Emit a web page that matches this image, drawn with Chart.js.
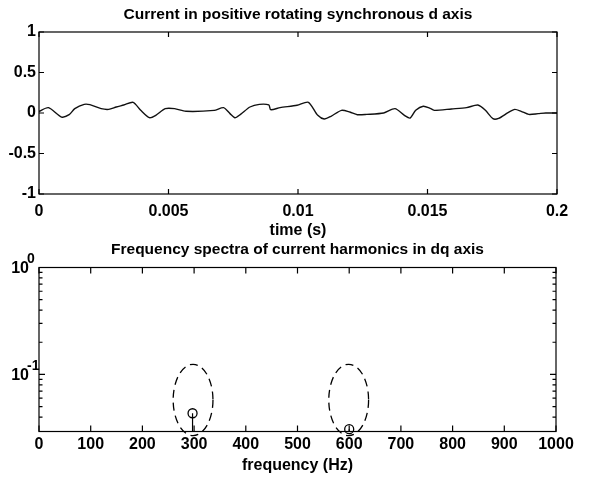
<!DOCTYPE html>
<html>
<head>
<meta charset="utf-8">
<script src="https://cdn.jsdelivr.net/npm/chart.js@4.4.1/dist/chart.umd.min.js"></script>
<style>
  html, body { margin: 0; padding: 0; background: #fff; }
  #top { position: absolute; left: 0; top: 0; }
  #bottom { position: absolute; left: 0; top: 240px; }
</style>
</head>
<body>
<canvas id="top" width="590" height="240"></canvas>
<canvas id="bottom" width="590" height="237"></canvas>
<script>
// d axis current (time in ms)
var timeMs = [0, 0.364, 0.873, 1.164, 1.382, 1.745, 1.964, 2.4, 2.691, 2.982,
  3.273, 3.636, 3.927, 4.262, 4.509, 4.873, 5.236, 5.673, 6.764, 7.127,
  7.375, 7.564, 7.782, 8.145, 8.509, 8.873, 8.945, 9.309, 9.964, 10.4,
  10.764, 11.011, 11.273, 11.68, 12.0, 12.291, 12.655, 13.309, 13.745, 14.109,
  14.327, 14.545, 14.836, 15.127, 15.273, 15.927, 16.509, 16.945, 17.236, 17.527,
  17.745, 18.109, 18.371, 18.618, 18.909, 19.273, 19.564, 20.0];
var currentD = [0.02, 0.066, -0.05, -0.02, 0.054, 0.107, 0.103, 0.054, 0.045, 0.074,
  0.099, 0.132, 0.033, -0.058, -0.029, 0.054, 0.054, 0.021, 0.033, 0.066,
  -0.008, -0.058, -0.017, 0.074, 0.107, 0.099, 0.041, 0.066, 0.095, 0.132,
  -0.029, -0.074, -0.041, 0.033, 0.012, -0.021, -0.017, 0, 0.054, -0.029,
  -0.062, 0.033, 0.083, 0.054, 0.033, 0.05, 0.066, 0.099, 0.033, -0.07,
  -0.066, 0.004, 0.045, 0.021, -0.017, -0.008, 0, 0];
var timeTicks = ['0', '0.005', '0.01', '0.015', '0.2'];
var currentTicks = ['-1', '-0.5', '0', '0.5', '1'];

// harmonic spectrum
var harmFreq = [297, 600];
var harmAmp = [0.0434, 0.0308];
var freqTicks = ['0', '100', '200', '300', '400', '500', '600', '700', '800', '900', '1000'];
var ampDecades = [1, 0.1];
var ampExponents = ['0', '-1'];
var ampRange = [0.0293, 1];

// dashed rings round the two harmonics
var ringFreq = [298, 599];
var ringHalfWidth = 38.5;
var ringTop = 0.1245;
var ringMid = 0.0578;

Chart.defaults.font.family = '"Liberation Sans", Arial, Helvetica, sans-serif';
Chart.defaults.font.size = 16;
Chart.defaults.font.weight = 'bold';
Chart.defaults.color = '#000';

function isDecade(v) {
   var l = Math.log10(v);
   return Math.abs(l - Math.round(l)) < 1e-6;
}

// matlab style box with inward ticks on all four sides
var boxTicks = {
   id: 'boxTicks',
   afterDraw: function(chart, args, opts) {
      var ctx = chart.ctx, a = chart.chartArea;
      var x = chart.scales.x, y = chart.scales.y;
      ctx.save();
      ctx.strokeStyle = '#000';
      ctx.lineWidth = 1.2;
      ctx.setLineDash([]);
      ctx.strokeRect(a.left, a.top, a.right - a.left, a.bottom - a.top);
      ctx.beginPath();
      x.ticks.forEach(function(t) {
         var px = x.getPixelForValue(t.value);
         ctx.moveTo(px, a.bottom); ctx.lineTo(px, a.bottom - opts.len);
         ctx.moveTo(px, a.top); ctx.lineTo(px, a.top + opts.len);
      });
      y.ticks.forEach(function(t) {
         var py = y.getPixelForValue(t.value);
         var len = opts.log && !isDecade(t.value) ? opts.minor : opts.len;
         ctx.moveTo(a.left, py); ctx.lineTo(a.left + len, py);
         ctx.moveTo(a.right, py); ctx.lineTo(a.right - len, py);
      });
      ctx.stroke();
      ctx.restore();
   }
};

// 10^n labels for the log axis
var decadeLabels = {
   id: 'decadeLabels',
   afterDraw: function(chart) {
      var ctx = chart.ctx, y = chart.scales.y, a = chart.chartArea;
      ctx.save();
      ctx.fillStyle = '#000';
      ampDecades.forEach(function(v, i) {
         var py = y.getPixelForValue(v);
         ctx.font = 'bold 16px "Liberation Sans", Arial, sans-serif';
         ctx.textAlign = 'right';
         ctx.textBaseline = 'middle';
         ctx.fillText('10', a.left - 10, py + 1);
         ctx.font = 'bold 14px "Liberation Sans", Arial, sans-serif';
         ctx.textAlign = 'left';
         ctx.fillText(ampExponents[i], a.left - 12, py - 8);
      });
      ctx.restore();
   }
};

var rings = {
   id: 'rings',
   afterDatasetsDraw: function(chart) {
      var ctx = chart.ctx, x = chart.scales.x, y = chart.scales.y;
      ctx.save();
      ctx.setLineDash([8, 5]);
      ctx.lineWidth = 1.3;
      ctx.strokeStyle = '#000';
      ringFreq.forEach(function(f) {
         var cx = x.getPixelForValue(f);
         var rx = x.getPixelForValue(f + ringHalfWidth) - cx;
         var cy = y.getPixelForValue(ringMid);
         var ry = cy - y.getPixelForValue(ringTop);
         ctx.beginPath();
         ctx.ellipse(cx, cy, rx, ry, 0, 0, Math.PI * 2);
         ctx.stroke();
      });
      ctx.restore();
   }
};

new Chart(document.getElementById('top'), {
   type: 'line',
   data: {
      datasets: [{
         data: timeMs.map(function(t, i) { return {x: t / 1000, y: currentD[i]}; }),
         borderColor: '#111',
         borderWidth: 1.4,
         pointRadius: 0,
         tension: 0.25,
         fill: false
      }]
   },
   options: {
      responsive: false,
      animation: false,
      devicePixelRatio: 1,
      layout: { padding: { left: 0, right: 33, top: 0, bottom: 0 } },
      plugins: {
         legend: { display: false },
         tooltip: { enabled: false },
         title: {
            display: true,
            fullSize: false,
            text: 'Current in positive rotating synchronous d axis',
            font: { size: 15.5, weight: 'bold' },
            padding: { top: 5.7, bottom: 7.7 }
         },
         boxTicks: { len: 5, minor: 5, log: false }
      },
      scales: {
         x: {
            type: 'linear', min: 0, max: 0.02,
            grid: { display: false, drawTicks: false },
            border: { display: false },
            ticks: { stepSize: 0.005, padding: 8.4, maxRotation: 0,
               callback: function(v, i) { return timeTicks[i]; } },
            title: { display: true, text: 'time (s)', padding: { top: 0, bottom: 0 } },
            afterFit: function(s) { s.height = 46; }
         },
         y: {
            min: -1, max: 1,
            grid: { display: false, drawTicks: false },
            border: { display: false },
            ticks: { stepSize: 0.5, padding: 3,
               callback: function(v, i) { return currentTicks[i]; } },
            afterFit: function(s) { s.width = 39; }
         }
      }
   },
   plugins: [boxTicks]
});

new Chart(document.getElementById('bottom'), {
   type: 'scatter',
   data: {
      datasets: harmFreq.map(function(f, i) {
         return {
            data: [{x: f, y: ampRange[0]}, {x: f, y: harmAmp[i]}],
            showLine: true,
            borderColor: '#000',
            borderWidth: 1.2,
            pointRadius: [0, 4.5],
            pointBorderWidth: 1.3,
            pointBorderColor: '#000',
            pointBackgroundColor: 'rgba(0,0,0,0)',
            clip: false
         };
      })
   },
   options: {
      responsive: false,
      animation: false,
      devicePixelRatio: 1,
      layout: { padding: { left: 0, right: 34, top: 0, bottom: 0 } },
      plugins: {
         legend: { display: false },
         tooltip: { enabled: false },
         title: {
            display: true,
            fullSize: false,
            text: 'Frequency spectra of current harmonics in dq axis',
            font: { size: 15.5, weight: 'bold' },
            padding: { top: 0.7, bottom: 8.2 }
         },
         boxTicks: { len: 6, minor: 3.5, log: true }
      },
      scales: {
         x: {
            type: 'linear', min: 0, max: 1000,
            grid: { display: false, drawTicks: false },
            border: { display: false },
            ticks: { stepSize: 100, padding: 3, maxRotation: 0,
               callback: function(v, i) { return freqTicks[i]; } },
            title: { display: true, text: 'frequency (Hz)', padding: { top: 0, bottom: 1.4 } },
            afterFit: function(s) { s.height = 45.5; }
         },
         y: {
            type: 'logarithmic', min: ampRange[0], max: ampRange[1],
            grid: { display: false, drawTicks: false },
            border: { display: false },
            ticks: { autoSkip: false, callback: function() { return ''; } },
            afterBuildTicks: function(s) {
               s.ticks = s.ticks.filter(function(t) {
                  var k = t.value / Math.pow(10, Math.floor(Math.log10(t.value) + 1e-9));
                  return Math.abs(k - Math.round(k)) < 1e-6;
               });
            },
            afterFit: function(s) { s.width = 39; }
         }
      }
   },
   plugins: [boxTicks, decadeLabels, rings]
});
</script>
</body>
</html>
